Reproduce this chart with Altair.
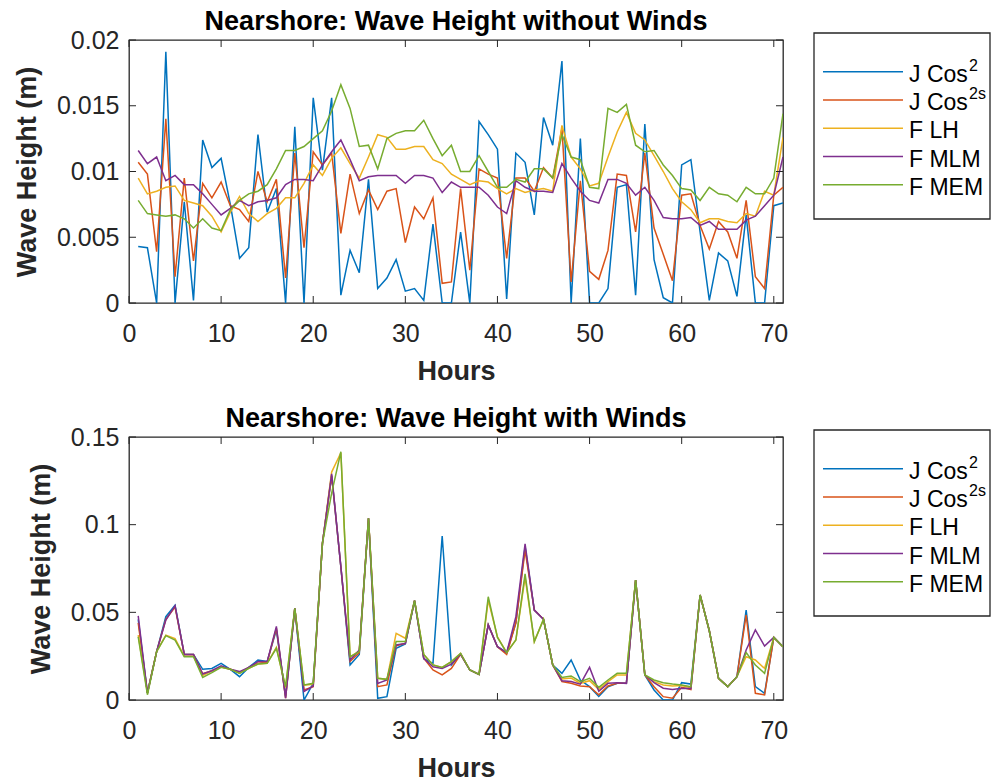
import altair as alt
import pandas as pd

# ---------------- data ----------------
hours = list(range(1, 72))
series_names = ["J Cos²", "J Cos²ˢ", "F LH", "F MLM", "F MEM"]
legend_base = ["J Cos", "J Cos", "F LH", "F MLM", "F MEM"]
legend_sup = ["2", "2s", "", "", ""]
series_colors = ["#0072BD", "#D95319", "#EDB120", "#7E2F8E", "#77AC30"]
x_ticks = [0, 10, 20, 30, 40, 50, 60, 70]
top_y_ticks = [0, 0.005, 0.01, 0.015, 0.02]
bot_y_ticks = [0, 0.05, 0.1, 0.15]
top_title = "Nearshore: Wave Height without Winds"
bot_title = "Nearshore: Wave Height with Winds"
x_label = "Hours"
y_label = "Wave Height (m)"

# without winds
top_jcos2 = [0.0043, 0.0042, 0, 0.0191, 0, 0.0077, 0.0002, 0.0124, 0.0103, 0.011,
             0.0075, 0.0034, 0.0042, 0.0128, 0.0069, 0.0087, 0, 0.0134, 0, 0.0156,
             0.0101, 0.0156, 0.0006, 0.004, 0.0023, 0.0094, 0.0011, 0.0019, 0.0033, 0.0009,
             0.0011, 0.0002, 0.006, 0, 0, 0.0054, 0, 0.0138, 0.0128, 0.0117,
             0.0003, 0.0114, 0.0107, 0.0067, 0.0141, 0.012, 0.0184, 0, 0.0125, 0,
             0, 0.0011, 0.0088, 0.009, 0.0006, 0.0136, 0.0033, 0.0004, 0, 0.0105,
             0.0109, 0.0054, 0.0002, 0.0038, 0.0032, 0.0005, 0.0067, 0, 0, 0.0074,
             0.0076]
top_jcos2s = [0.0107, 0.0098, 0.0039, 0.014, 0.002, 0.0095, 0.0032, 0.0091, 0.008, 0.0092,
              0.0074, 0.0071, 0.0062, 0.01, 0.0077, 0.0094, 0.0019, 0.0114, 0.0042, 0.0115,
              0.0105, 0.0114, 0.0053, 0.0098, 0.0068, 0.0086, 0.0071, 0.0085, 0.0087, 0.0046,
              0.0073, 0.0064, 0.008, 0.0015, 0.0016, 0.0087, 0.0025, 0.0102, 0.0098, 0.0095,
              0.0034, 0.0095, 0.0095, 0.0085, 0.0103, 0.0095, 0.0133, 0.0016, 0.0093, 0.0024,
              0.0018, 0.004, 0.0098, 0.0097, 0.0054, 0.0114, 0.0057, 0.0037, 0.0017, 0.0082,
              0.0083, 0.0059, 0.0041, 0.0062, 0.0054, 0.0034, 0.0078, 0.002, 0.0011, 0.0082,
              0.0088]
top_flh = [0.0095, 0.0083, 0.0085, 0.0088, 0.0089, 0.0078, 0.0076, 0.0074, 0.0066, 0.0054,
           0.0069, 0.0081, 0.0068, 0.0062, 0.0068, 0.0072, 0.008, 0.008, 0.0091, 0.0105,
           0.0097, 0.011, 0.0118, 0.0106, 0.0095, 0.0111, 0.0128, 0.0126, 0.0117, 0.0117,
           0.0119, 0.0119, 0.0109, 0.0106, 0.0098, 0.0094, 0.009, 0.0093, 0.0092, 0.0087,
           0.0083, 0.0087, 0.0084, 0.0086, 0.0087, 0.0085, 0.0135, 0.0111, 0.0102, 0.0089,
           0.0091, 0.0111, 0.013, 0.0145, 0.0129, 0.0124, 0.0112, 0.01, 0.0087, 0.0077,
           0.0071, 0.0061, 0.0064, 0.0064, 0.0062, 0.0061, 0.0068, 0.0066, 0.0085, 0.0082,
           0.0126]
top_fmlm = [0.0116, 0.0106, 0.0111, 0.0093, 0.0097, 0.009, 0.009, 0.0083, 0.0075, 0.0067,
            0.0072, 0.0078, 0.0074, 0.0077, 0.0078, 0.008, 0.009, 0.0094, 0.0094, 0.0093,
            0.0105, 0.0115, 0.0124, 0.0109, 0.0093, 0.0096, 0.0097, 0.0097, 0.0097, 0.0091,
            0.0097, 0.0097, 0.0095, 0.0084, 0.0092, 0.0088, 0.0088, 0.0088, 0.0082, 0.0073,
            0.0068, 0.0093, 0.0088, 0.0085, 0.0085, 0.0084, 0.0106, 0.0095, 0.0085, 0.0078,
            0.0076, 0.0094, 0.0094, 0.0091, 0.0082, 0.0088, 0.0078, 0.0065, 0.0064, 0.0064,
            0.0065, 0.0059, 0.0062, 0.0056, 0.0056, 0.0056, 0.0063, 0.0066, 0.0074, 0.0082,
            0.0111]
top_fmem = [0.0078, 0.0068, 0.0067, 0.0066, 0.0067, 0.0064, 0.0057, 0.0064, 0.0057, 0.0055,
            0.0071, 0.0078, 0.0083, 0.0085, 0.009, 0.0102, 0.0116, 0.0116, 0.0119, 0.0125,
            0.0131, 0.0146, 0.0166, 0.0148, 0.0119, 0.012, 0.0102, 0.0125, 0.0129, 0.0131,
            0.0131, 0.0139, 0.0125, 0.0112, 0.012, 0.01, 0.01, 0.0112, 0.01, 0.0088,
            0.0088, 0.0094, 0.0092, 0.0102, 0.0102, 0.0095, 0.0128, 0.0111, 0.0109, 0.0088,
            0.0087, 0.0148, 0.0145, 0.0151, 0.012, 0.0115, 0.0116, 0.0105, 0.0097, 0.0087,
            0.0086, 0.0078, 0.0088, 0.0083, 0.0082, 0.0077, 0.0088, 0.0083, 0.0083, 0.0095,
            0.0144]

# with winds
bot_jcos2 = [0.046, 0.004, 0.0276, 0.0475, 0.054, 0.026, 0.026, 0.0175, 0.018, 0.0209,
             0.0175, 0.0133, 0.0186, 0.0228, 0.0219, 0.04, 0.002, 0.0523, 0, 0.0095,
             0.0893, 0.128, 0.076, 0.02, 0.026, 0.1036, 0.001, 0.0019, 0.0295, 0.032,
             0.0567, 0.0235, 0.0209, 0.0935, 0.02, 0.0262, 0.0171, 0.0146, 0.0428, 0.0304,
             0.027, 0.044, 0.0875, 0.0513, 0.046, 0.02, 0.0152, 0.0228, 0.0114, 0.0076,
             0.002, 0.0076, 0.0095, 0.0095, 0.0684, 0.0143, 0.0057, 0, 0, 0.0099,
             0.0091, 0.0599, 0.0395, 0.0124, 0.0076, 0.0133, 0.0513, 0.0076, 0.0038, 0.0357,
             0.0304]
bot_jcos2s = [0.044, 0.004, 0.0276, 0.046, 0.053, 0.026, 0.026, 0.015, 0.0167, 0.019,
              0.0175, 0.0155, 0.0186, 0.021, 0.0215, 0.041, 0.001, 0.0523, 0.0057, 0.0076,
              0.0893, 0.128, 0.076, 0.022, 0.027, 0.1036, 0.0076, 0.0086, 0.031, 0.0323,
              0.0567, 0.0238, 0.0171, 0.0143, 0.018, 0.026, 0.0171, 0.0146, 0.0428, 0.0304,
              0.026, 0.044, 0.0855, 0.0513, 0.046, 0.02, 0.0105, 0.0095, 0.008, 0.0076,
              0.003, 0.008, 0.0095, 0.0095, 0.0684, 0.0143, 0.0076, 0.0019, 0.001, 0.0072,
              0.006, 0.0599, 0.0395, 0.0124, 0.0076, 0.0133, 0.0485, 0.0038, 0.0029, 0.0357,
              0.0304]
bot_flh = [0.037, 0.004, 0.0276, 0.037, 0.035, 0.025, 0.025, 0.014, 0.0165, 0.0188,
           0.0175, 0.0155, 0.018, 0.0205, 0.0209, 0.03, 0.007, 0.0523, 0.0085, 0.009,
           0.0893, 0.13, 0.141, 0.0245, 0.028, 0.1036, 0.0124, 0.0118, 0.038, 0.0352,
           0.0567, 0.026, 0.02, 0.0186, 0.0219, 0.0266, 0.0171, 0.0146, 0.057, 0.036,
           0.027, 0.0342, 0.07, 0.0333, 0.046, 0.02, 0.012, 0.0125, 0.0095, 0.011,
           0.006, 0.0105, 0.0143, 0.0143, 0.0684, 0.0143, 0.0105, 0.0086, 0.008, 0.0082,
           0.007, 0.0599, 0.0395, 0.0124, 0.0076, 0.0133, 0.0247, 0.0228, 0.018, 0.0357,
           0.0304]
bot_fmlm = [0.048, 0.004, 0.0276, 0.0456, 0.0538, 0.026, 0.026, 0.0148, 0.0167, 0.0195,
            0.0175, 0.0162, 0.0186, 0.0219, 0.0219, 0.042, 0.001, 0.0523, 0.0048, 0.008,
            0.0893, 0.129, 0.076, 0.0228, 0.0285, 0.1036, 0.0095, 0.0114, 0.0314, 0.0323,
            0.0567, 0.0238, 0.019, 0.018, 0.0205, 0.0262, 0.0171, 0.0146, 0.0428, 0.0304,
            0.027, 0.0475, 0.089, 0.0513, 0.046, 0.02, 0.011, 0.0105, 0.009, 0.0186,
            0.005, 0.0095, 0.0099, 0.0095, 0.0684, 0.0143, 0.0099, 0.0067, 0.006, 0.0067,
            0.0065, 0.0599, 0.0395, 0.0124, 0.0076, 0.0133, 0.0285, 0.04, 0.0308, 0.0357,
            0.0304]
bot_fmem = [0.036, 0.003, 0.0276, 0.0367, 0.0342, 0.0247, 0.0247, 0.0129, 0.0156, 0.0186,
            0.0175, 0.0152, 0.0181, 0.0205, 0.0209, 0.0295, 0.0076, 0.0523, 0.0086, 0.0095,
            0.0893, 0.118, 0.1416, 0.0247, 0.0276, 0.1036, 0.0124, 0.0118, 0.0333, 0.0333,
            0.0567, 0.026, 0.02, 0.0186, 0.0219, 0.0266, 0.0171, 0.0146, 0.0589, 0.0357,
            0.027, 0.0342, 0.0719, 0.0333, 0.046, 0.02, 0.0129, 0.0137, 0.0105, 0.0124,
            0.0072, 0.0114, 0.0152, 0.0152, 0.0684, 0.0143, 0.0114, 0.0099, 0.0091, 0.0086,
            0.0076, 0.0599, 0.0395, 0.0124, 0.0076, 0.0133, 0.027, 0.02, 0.0152, 0.0357,
            0.0304]

top_series = [top_jcos2, top_jcos2s, top_flh, top_fmlm, top_fmem]
bot_series = [bot_jcos2, bot_jcos2s, bot_flh, bot_fmlm, bot_fmem]

# ---------------- style ----------------
FONT = "Liberation Sans"
AX = "#262626"
W, H = 654, 263
LW = 176
TICK = 7


def to_long(series_values):
    rows = []
    for name, vals in zip(series_names, series_values):
        for h, v in zip(hours, vals):
            rows.append({"hour": h, "series": name, "value": v})
    return pd.DataFrame(rows)


color_scale = alt.Scale(domain=series_names, range=series_colors)


def make_panel(series_values, ymax, yticks, yfmt, title):
    df = to_long(series_values)
    xs = alt.Scale(domain=[0, 71], nice=False, zero=False)
    ys = alt.Scale(domain=[0, ymax], nice=False, zero=False)
    xaxis = alt.Axis(values=x_ticks, format="d", title=x_label, grid=False, domain=False,
                     ticks=False, tickSize=0, labelPadding=18, titlePadding=12,
                     labelFont=FONT, labelFontSize=25, labelColor=AX, labelFlush=False,
                     titleFont=FONT, titleFontSize=27, titleFontWeight="bold", titleColor=AX)
    yaxis = alt.Axis(values=yticks, format=yfmt, title=y_label, grid=False, domain=False,
                     ticks=False, tickSize=0, labelPadding=10, titlePadding=15,
                     labelFont=FONT, labelFontSize=25, labelColor=AX, labelFlush=False,
                     titleFont=FONT, titleFontSize=27, titleFontWeight="bold", titleColor=AX)
    lines = alt.Chart(df).mark_line(strokeWidth=1.5, clip=True).encode(
        x=alt.X("hour:Q", scale=xs, axis=xaxis),
        y=alt.Y("value:Q", scale=ys, axis=yaxis),
        color=alt.Color("series:N", scale=color_scale, legend=None),
    )
    xt = pd.DataFrame({"hour": x_ticks})
    yt = pd.DataFrame({"value": yticks})
    xb = alt.Chart(xt).mark_rule(color=AX, strokeWidth=1).encode(
        x=alt.X("hour:Q", scale=xs, axis=xaxis), y=alt.value(H), y2=alt.value(H - TICK))
    xtp = alt.Chart(xt).mark_rule(color=AX, strokeWidth=1).encode(
        x=alt.X("hour:Q", scale=xs, axis=xaxis), y=alt.value(0), y2=alt.value(TICK))
    yl = alt.Chart(yt).mark_rule(color=AX, strokeWidth=1).encode(
        y=alt.Y("value:Q", scale=ys, axis=yaxis), x=alt.value(0), x2=alt.value(TICK))
    yr = alt.Chart(yt).mark_rule(color=AX, strokeWidth=1).encode(
        y=alt.Y("value:Q", scale=ys, axis=yaxis), x=alt.value(W), x2=alt.value(W - TICK))
    return alt.layer(lines, xb, xtp, yl, yr).properties(
        width=W, height=H,
        view=alt.ViewBackground(stroke=AX, strokeWidth=1.3),
        title=alt.TitleParams(title, font=FONT, fontSize=27, fontWeight="bold", color="black",
                              anchor="middle", frame="group", offset=-8),
    )


def make_legend():
    ld = pd.DataFrame({"series": series_names, "base": legend_base, "sup": legend_sup})
    ys = alt.Scale(domain=series_names, range=[17.7, 159], padding=0)
    box = alt.Chart(pd.DataFrame({"series": [series_names[0]]})).mark_rect(
        fill="white", stroke=AX, strokeWidth=1.3).encode(
        x=alt.value(0), x2=alt.value(LW), y=alt.value(-7), y2=alt.value(179))
    rules = alt.Chart(ld).mark_rule(strokeWidth=1.5).encode(
        x=alt.value(9), x2=alt.value(89),
        y=alt.Y("series:N", scale=ys, axis=None),
        color=alt.Color("series:N", scale=color_scale, legend=None))
    texts = alt.Chart(ld).mark_text(align="left", baseline="middle", font=FONT, fontSize=23,
                                    color="black", dy=3).encode(
        x=alt.value(95), y=alt.Y("series:N", scale=ys, axis=None), text="base:N")
    sups = alt.Chart(ld).mark_text(align="left", baseline="alphabetic", font=FONT, fontSize=16,
                                   color="black", dy=-1).encode(
        x=alt.value(155), y=alt.Y("series:N", scale=ys, axis=None), text="sup:N")
    return alt.layer(box, rules, texts, sups).properties(
        width=LW, height=H, view=alt.ViewBackground(stroke="transparent"))


top_panel = make_panel(top_series, 0.02, top_y_ticks, ".3~f", top_title)
bot_panel = make_panel(bot_series, 0.15, bot_y_ticks, ".2~f", bot_title)

top_row = alt.hconcat(top_panel, make_legend(), spacing=31, bounds="flush")
bot_row = alt.hconcat(bot_panel, make_legend(), spacing=31, bounds="flush")

chart = alt.vconcat(top_row, bot_row, spacing=19).properties(
    padding={"left": 12, "top": 7, "right": 0, "bottom": 0},
    background="white",
).configure(font=FONT)

chart.save("out.html", embed_options={"renderer": "svg", "actions": False})
